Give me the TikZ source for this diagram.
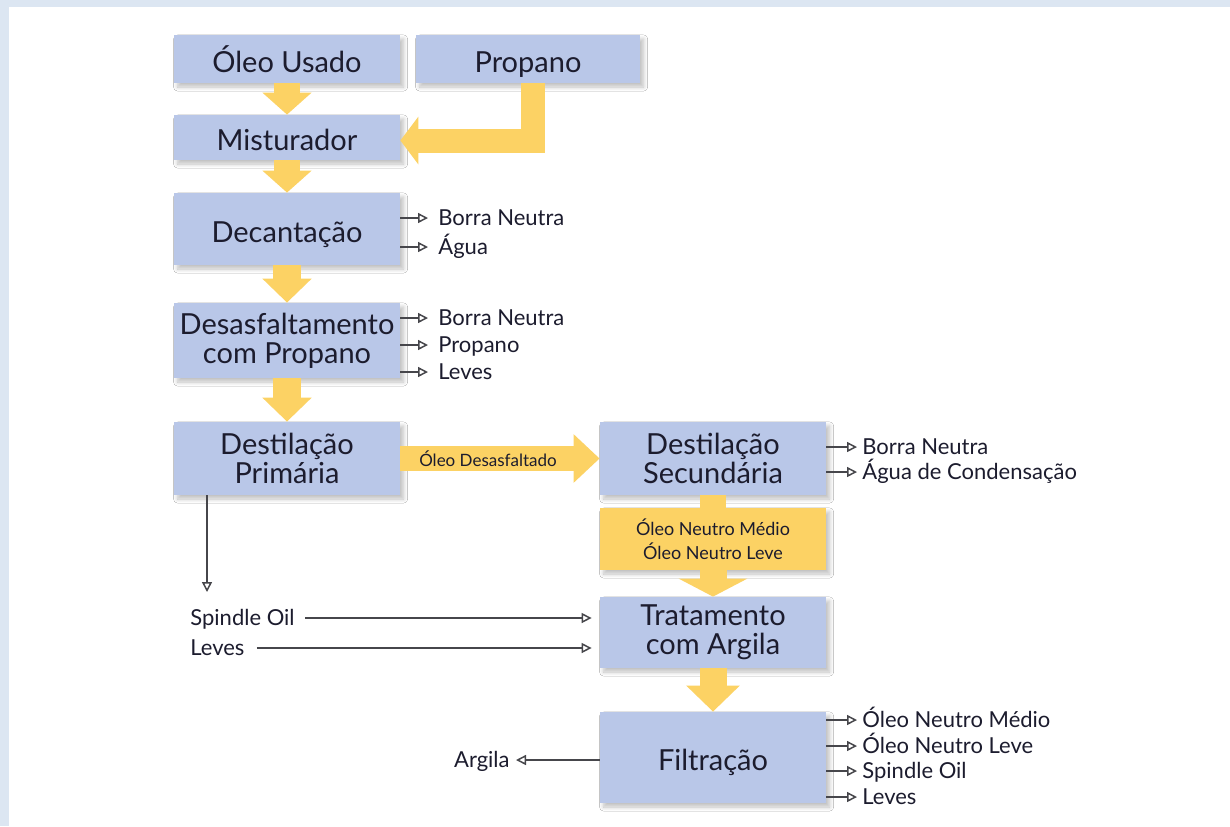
\documentclass[tikz,border=0pt]{standalone}
\usepackage{fontspec}
\setmainfont{Lato}
\usetikzlibrary{arrows.meta,shadows.blur,calc}
\definecolor{framebg}{RGB}{220,230,242}
\definecolor{boxblue}{RGB}{185,199,232}
\definecolor{arrowy}{RGB}{252,210,100}
\definecolor{textc}{RGB}{28,28,46}
\definecolor{linegray}{RGB}{70,70,75}
\tikzset{
  box/.style={fill=boxblue, text=textc, align=center, inner sep=0pt,
    font=\fontsize{14.5pt}{14.5pt}\selectfont,
    blur shadow={shadow xshift=1.8pt, shadow yshift=-2pt, shadow blur steps=7, shadow opacity=25}},
  onebox/.style={box, text height=14pt, text depth=1pt},
  obox/.style={fill=arrowy, text=textc, align=center, inner sep=0pt,
    font=\fontsize{9pt}{12pt}\selectfont,
    blur shadow={shadow xshift=1.8pt, shadow yshift=-2pt, shadow blur steps=7, shadow opacity=25}},
  lbl/.style={text=textc, inner sep=0pt, font=\fontsize{11pt}{11pt}\selectfont,
    text height=8.5pt, text depth=1.5pt},
  yarrow/.style={draw=arrowy, line width=#1},
  thinarrow/.style={draw=linegray, line width=0.75pt, -{Triangle[open, length=5pt, width=5pt]}},
}
\begin{document}
\begin{tikzpicture}[x=0.5pt,y=-0.5pt]
\useasboundingbox (0,0) rectangle (1230,826);
\fill[framebg] (0,0) rectangle (1230,826);
\fill[white] (9,7) rectangle (1230,826);

% boxes
\node[onebox, minimum width=113pt, minimum height=24pt] (oleo) at (287,59) {Óleo Usado};
\node[onebox, minimum width=112pt, minimum height=24pt] (prop) at (528,59) {Propano};
\node[onebox, minimum width=113pt, minimum height=22.5pt] (mist) at (287,137.5) {Misturador};
\node[onebox, minimum width=113pt, minimum height=36pt] (dec) at (287,229) {Decantação};
\node[box, minimum width=113pt, minimum height=37.5pt] (des) at (287,340.5) {Desasfaltamento\\com Propano};
\node[box, minimum width=113pt, minimum height=36.5pt] (dp) at (287,458.5) {Destilação\\Primária};
\node[box, minimum width=113pt, minimum height=36.5pt] (ds) at (713,458.5) {Destilação\\Secundária};
\node[obox, minimum width=113pt, minimum height=31pt] (ob) at (713,539) {Óleo Neutro Médio\\Óleo Neutro Leve};
\node[box, minimum width=113pt, minimum height=35.5pt] (trat) at (713,632.5) {Tratamento\\com Argila};
\node[onebox, minimum width=113pt, minimum height=45.5pt] (filt) at (713,757.5) {Filtração};

% yellow block arrows
\draw[yarrow=13pt, -{Triangle[length=11pt,width=24pt]}] (oleo.south) -- (mist.north);
\draw[yarrow=13pt, -{Triangle[length=11pt,width=24pt]}] (mist.south) -- (dec.north);
\draw[yarrow=14pt, -{Triangle[length=12pt,width=24pt]}] (dec.south) -- (des.north);
\draw[yarrow=14pt, -{Triangle[length=12pt,width=24pt]}] (des.south) -- (dp.north);
\coordinate (pcorner) at (533,140);
\draw[yarrow=12pt, line join=miter, -{Triangle[length=9pt,width=23.5pt]}] (prop.south -| pcorner) |- ([yshift=-1.5pt]mist.east);
\draw[yarrow=12.5pt, -{Triangle[length=13pt,width=23.5pt]}] (dp.east) -- node[text=textc, font=\fontsize{8.5pt}{8.5pt}\selectfont, xshift=-6pt] (odes) {Óleo Desasfaltado} (ds.west);
\draw[yarrow=13pt] (ds.south) -- (ob.north);
\draw[yarrow=13.5pt, -{Triangle[length=9pt,width=34pt]}] (ob.south) -- (trat.north);
\draw[yarrow=13.5pt, -{Triangle[length=13pt,width=26pt]}] (trat.south) -- (filt.north);

% side outputs: Decantacao
\node[lbl, anchor=west] (d1) at (438,218) {Borra Neutra};
\node[lbl, anchor=west] (d2) at (438,247) {Água};
\foreach \n in {d1,d2} \draw[thinarrow] (dec.east |- \n.west) -- ([xshift=-5pt]\n.west);
% Desasfaltamento
\node[lbl, anchor=west] (e1) at (438,318) {Borra Neutra};
\node[lbl, anchor=west] (e2) at (438,345) {Propano};
\node[lbl, anchor=west] (e3) at (438,372) {Leves};
\foreach \n in {e1,e2,e3} \draw[thinarrow] (des.east |- \n.west) -- ([xshift=-5pt]\n.west);
% Secundaria
\node[lbl, anchor=west] (s1) at (862,447) {Borra Neutra};
\node[lbl, anchor=west] (s2) at (862,472) {Água de Condensação};
\foreach \n in {s1,s2} \draw[thinarrow] (ds.east |- \n.west) -- ([xshift=-2.5pt]\n.west);
% Filtracao
\node[lbl, anchor=west] (f1) at (862,720) {Óleo Neutro Médio};
\node[lbl, anchor=west] (f2) at (862,746) {Óleo Neutro Leve};
\node[lbl, anchor=west] (f3) at (862,771) {Spindle Oil};
\node[lbl, anchor=west] (f4) at (862,797) {Leves};
\foreach \n in {f1,f2,f3,f4} \draw[thinarrow] (filt.east |- \n.west) -- ([xshift=-2.5pt]\n.west);
\node[lbl, anchor=east] (arg) at (510,760) {Argila};
\draw[thinarrow] (filt.west |- arg.east) -- ([xshift=3pt]arg.east);

% primary down and inputs to Tratamento
\coordinate (pd) at (207,592);
\draw[thinarrow] (dp.south -| pd) -- (pd);
\node[lbl, anchor=west] (so) at (190,618) {Spindle Oil};
\node[lbl, anchor=west] (lv) at (190,648) {Leves};
\coordinate (t1) at (trat.west |- so.east);
\coordinate (t2) at (trat.west |- lv.east);
\draw[thinarrow] ([xshift=5pt]so.east) -- ([xshift=-4pt]t1);
\draw[thinarrow] ([xshift=6pt]lv.east) -- ([xshift=-4pt]t2);
\end{tikzpicture}
\end{document}
